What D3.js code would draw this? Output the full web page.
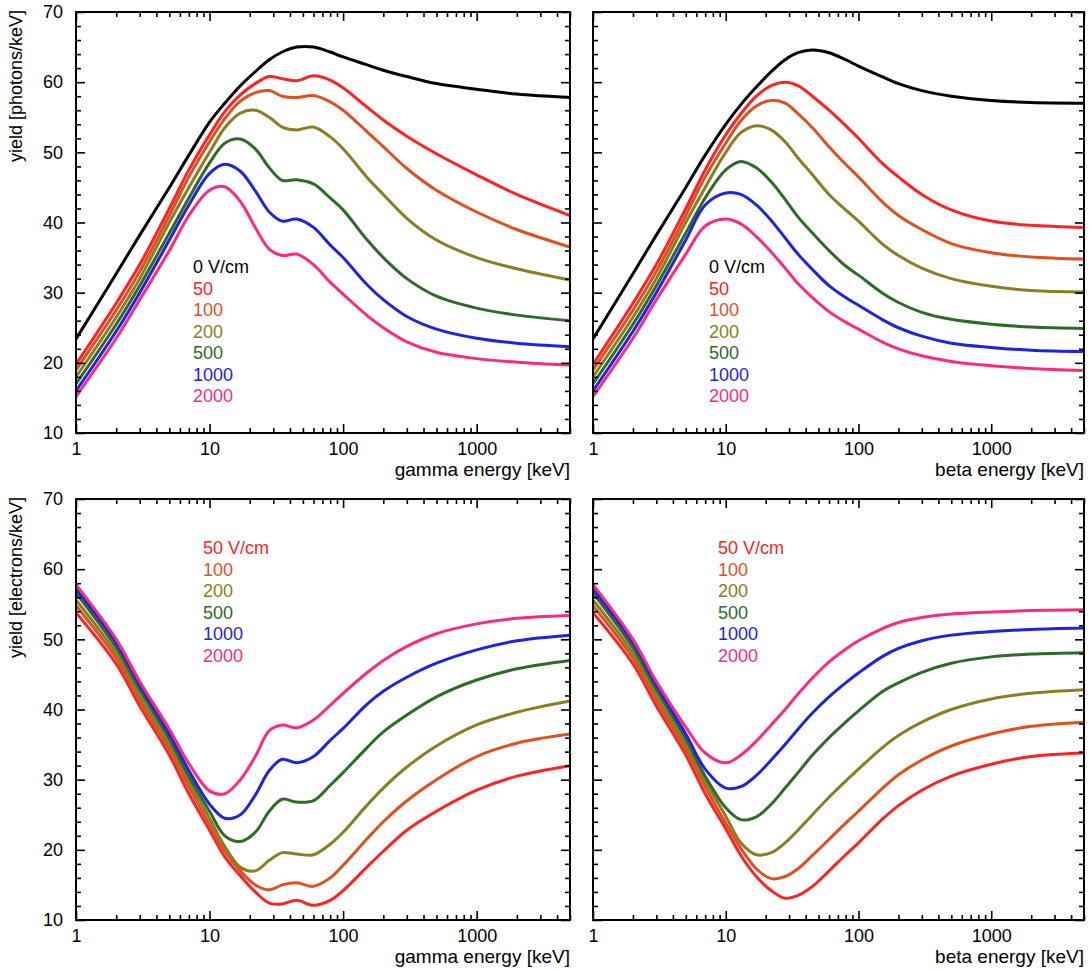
<!DOCTYPE html>
<html><head><meta charset="utf-8">
<script src="https://cdn.jsdelivr.net/npm/d3@7"></script>
<style>
html,body{margin:0;padding:0;background:#fff;}
svg{display:block;font-family:"Liberation Sans",Arial,sans-serif;}
</style></head>
<body>
<svg id="chart" width="1092" height="970"></svg>
<script>
// ---------- data ----------
const energies = [1,2,3,5,7,10,13,17,22,28,35,45,60,80,100,150,200,300,500,1000,2000,5000];
const xTickLabels = [1,10,100,1000];
const yTickLabels = [10,20,30,40,50,60,70];
const photonFields = ["0 V/cm","50","100","200","500","1000","2000"];
const electronFields = ["50 V/cm","100","200","500","1000","2000"];
const photonColors = ["#000000","#ff2222","#e0501e","#8a7d22","#2f6a2a","#1e22e6","#ff2a7f"];
const electronColors = ["#ff2222","#e0501e","#8a7d22","#2f6a2a","#1e22e6","#ff2a7f"];

// gamma, photons (0,50,100,200,500,1000,2000 V/cm)
const gammaPhotons = [
  [23.4,32.7,38.2,45,49.6,54.3,57,59.5,61.5,63.2,64.3,65,65,64.3,63.6,62.5,61.7,60.8,59.8,59,58.3,57.8],
  [19.8,28.5,34,42,47.5,52.5,55.8,58.2,59.8,60.8,60.5,60.2,60.9,60.3,59.2,56.5,54.6,52.3,49.8,46.8,44,41],
  [19,27.5,33,41,46.5,51.5,54.8,57.3,58.5,58.8,58,57.8,58.1,57.2,56,53,50.8,47.7,44.6,41.5,39,36.5],
  [18,26.5,32,40,45,50,53.5,55.6,56,55,53.6,53.2,53.6,52.2,50.5,46.5,44,40.6,37.5,35,33.4,31.8],
  [17,25.5,31,38.5,43.5,48.5,51.3,51.9,50.5,47.8,46,46.1,45.5,43.5,41.8,37.6,35,32,29.5,27.8,26.8,26],
  [16,24.5,30,37.5,42.5,47,48.3,47.3,44.5,41.5,40.2,40.5,39.3,36.8,35,31.2,29,26.6,24.8,23.5,22.8,22.3],
  [15.2,23.5,29,36,41,44.6,45.1,43,39.3,36.2,35.3,35.5,34,31.5,29.8,26.8,25,23,21.5,20.6,20.1,19.7]
];
// beta, photons
const betaPhotons = [
  [23.4,32.7,38.2,45,49.6,54,56.8,59.3,61.5,63.2,64.2,64.6,64.2,63.2,62.3,60.8,59.8,58.8,58,57.4,57.1,57],
  [19.8,28.5,34,42,47.5,52.5,55.5,58,59.5,60,59.5,58,56,53.8,52,48.5,46.5,44,41.8,40.2,39.6,39.3],
  [19,27.5,33,41,46.5,51.3,54.5,56.6,57.4,57,55.5,53.5,50.8,48.3,46.5,43,41,39,37,35.7,35.1,34.8],
  [18,26.5,32,40,45,50,52.8,53.8,53.2,51.5,49.2,46.8,44,41.8,40.2,37,35.3,33.5,32,30.9,30.3,30.1],
  [17,25.5,31,38.5,43.5,47.5,48.7,47.8,45.8,43.3,40.8,38.5,36,33.8,32.5,30,28.6,27.2,26.2,25.5,25.1,24.9],
  [16,24.5,30,37.5,42.5,44.2,44,42.5,40.3,37.8,35.5,33.3,31,29.3,28.2,26.2,25,23.8,22.8,22.2,21.8,21.6],
  [15.2,23.5,29,35.5,39.5,40.5,39.8,38,35.8,33.5,31.3,29.3,27.3,25.8,24.8,23,22,21,20.2,19.6,19.2,18.9]
];
// gamma, electrons (50,100,200,500,1000,2000 V/cm)
const gammaElectrons = [
  [53.8,46.5,40.5,33.5,28,22.8,19,16.3,14,12.4,12.3,12.8,12.1,12.8,14.2,17.5,19.8,22.8,25.5,28.5,30.5,32],
  [54.8,47.3,41.3,34.3,29,23.6,19.8,17,15,14.3,15,15.3,14.8,16,17.8,21.5,24,27,30,33.3,35.2,36.5],
  [55.6,48,42,35,29.8,24.5,20.5,17.5,17,18.5,19.6,19.4,19.3,20.8,22.5,26.3,28.8,31.8,34.8,37.8,39.6,41.2],
  [56.6,48.8,42.8,35.8,30.5,25.5,22,21.2,22.5,25.5,27.2,26.8,27,29.2,31,34.5,36.8,39.2,41.8,44.2,45.8,47],
  [57.2,49.5,43.5,36.5,31.3,26.5,24.5,25,27.8,31.3,32.9,32.4,33.3,35.6,37.3,40.7,42.6,44.6,46.6,48.5,49.8,50.6],
  [57.8,50,44,37.2,32.3,28.4,28,30,33.3,37,37.8,37.4,38.5,40.6,42.3,45.2,47,49,50.8,52.2,53,53.4]
];
// beta, electrons
const betaElectrons = [
  [53.8,46.5,40.5,33.5,28,23,19.2,16.2,14.2,13.1,13.5,14.8,17,19.3,21,24.3,26.3,28.5,30.5,32.2,33.3,33.8],
  [54.8,47.3,41.3,34.3,29,23.8,20.2,17.3,15.9,16.2,17.3,19.2,21.5,23.8,25.5,28.7,30.7,32.8,34.8,36.5,37.6,38.2],
  [55.6,48,42,35,29.8,24.8,21,19.3,19.6,21,22.8,25,27.5,29.8,31.5,34.5,36.3,38.2,40,41.5,42.3,42.8],
  [56.6,48.8,42.8,35.8,30.5,26,24.3,24.7,26.5,28.8,31,33.5,36,38.2,39.8,42.5,43.8,45.3,46.6,47.5,47.9,48.1],
  [57.2,49.5,43.5,36.5,31.5,28.8,29,30.6,32.8,35,37.2,39.5,41.8,43.8,45.2,47.5,48.7,49.8,50.6,51.1,51.4,51.6],
  [57.8,50,44,37.5,33.8,32.4,33.5,35.5,37.8,40,42.2,44.5,46.8,48.6,49.8,51.5,52.4,53.1,53.6,53.9,54.1,54.2]
];

// ---------- drawing ----------
const svg = d3.select("#chart");
const FONT = 18;

const panels = [
  {series: gammaPhotons, colors: photonColors, labels: photonFields, x0:76, x1:570, y0:12, y1:433,
   xTitle:"gamma energy [keV]", yTitle:"yield [photons/keV]", yLabels:true, legend:[193,273]},
  {series: betaPhotons, colors: photonColors, labels: photonFields, x0:593, x1:1084, y0:12, y1:433,
   xTitle:"beta energy [keV]", yTitle:null, yLabels:false, legend:[709,273]},
  {series: gammaElectrons, colors: electronColors, labels: electronFields, x0:76, x1:570, y0:499, y1:920,
   xTitle:"gamma energy [keV]", yTitle:"yield [electrons/keV]", yLabels:true, legend:[203,554]},
  {series: betaElectrons, colors: electronColors, labels: electronFields, x0:593, x1:1084, y0:499, y1:920,
   xTitle:"beta energy [keV]", yTitle:null, yLabels:false, legend:[718,554]}
];

const minorX = [];
for (let p = 0; p <= 3; p++) for (let k = 2; k <= 9; k++) { const v = k*Math.pow(10,p); if (v <= 5000) minorX.push(v); }
const minorY = d3.range(12, 70, 2).filter(v => v % 10 !== 0);

panels.forEach(P => {
  const x = d3.scaleLog().domain([1,5000]).range([P.x0, P.x1]);
  const y = d3.scaleLinear().domain([10,70]).range([P.y1, P.y0]);
  const g = svg.append("g");

  const cid = "clip" + P.x0 + "_" + P.y0;
  svg.append("clipPath").attr("id", cid).append("rect")
    .attr("x", P.x0).attr("y", P.y0).attr("width", P.x1-P.x0).attr("height", P.y1-P.y0);

  const line = d3.line().x((d,i) => x(energies[i])).y(d => y(d)).curve(d3.curveCatmullRom.alpha(0.5));
  const cg = g.append("g").attr("clip-path", `url(#${cid})`);
  P.series.forEach((s, i) => {
    cg.append("path").attr("d", line(s)).attr("fill","none")
      .attr("stroke", P.colors[i]).attr("stroke-width", 3).attr("stroke-linejoin","round");
  });

  const styleAxis = sel => { sel.select(".domain").remove(); sel.selectAll("line").attr("stroke","#000").attr("stroke-width",1.6); sel.selectAll("text").attr("fill","#000").style("font-size", FONT+"px").style("font-family","Liberation Sans, Arial, sans-serif"); };

  g.append("g").attr("transform", `translate(0,${P.y1})`)
    .call(d3.axisBottom(x).tickValues(xTickLabels).tickSize(-9).tickPadding(9).tickFormat(d3.format("d"))).call(styleAxis);
  g.append("g").attr("transform", `translate(0,${P.y1})`)
    .call(d3.axisBottom(x).tickValues(minorX).tickSize(-5).tickFormat("")).call(styleAxis);
  g.append("g").attr("transform", `translate(0,${P.y0})`)
    .call(d3.axisTop(x).tickValues(xTickLabels).tickSize(-9).tickFormat("")).call(styleAxis);
  g.append("g").attr("transform", `translate(0,${P.y0})`)
    .call(d3.axisTop(x).tickValues(minorX).tickSize(-5).tickFormat("")).call(styleAxis);

  g.append("g").attr("transform", `translate(${P.x0},0)`)
    .call(d3.axisLeft(y).tickValues(yTickLabels).tickSize(-9).tickPadding(13).tickFormat(P.yLabels ? d3.format("d") : "")).call(styleAxis);
  g.append("g").attr("transform", `translate(${P.x0},0)`)
    .call(d3.axisLeft(y).tickValues(minorY).tickSize(-5).tickFormat("")).call(styleAxis);
  g.append("g").attr("transform", `translate(${P.x1},0)`)
    .call(d3.axisRight(y).tickValues(yTickLabels).tickSize(-9).tickFormat("")).call(styleAxis);
  g.append("g").attr("transform", `translate(${P.x1},0)`)
    .call(d3.axisRight(y).tickValues(minorY).tickSize(-5).tickFormat("")).call(styleAxis);

  g.append("rect").attr("x", P.x0).attr("y", P.y0).attr("width", P.x1-P.x0).attr("height", P.y1-P.y0)
    .attr("fill","none").attr("stroke","#000").attr("stroke-width",2);

  g.append("text").attr("x", P.x1).attr("y", P.y1 + 43).attr("text-anchor","end")
    .style("font-size","19px").text(P.xTitle);
  if (P.yTitle) {
    g.append("text").attr("transform", `translate(22,${P.y0-2}) rotate(-90)`)
      .attr("text-anchor","end").style("font-size", FONT+"px").text(P.yTitle);
  }

  P.labels.forEach((t, i) => {
    g.append("text").attr("x", P.legend[0]).attr("y", P.legend[1] + i*21.5)
      .attr("fill", P.colors[i]).style("font-size", FONT+"px").text(t);
  });
});
</script>
</body></html>
